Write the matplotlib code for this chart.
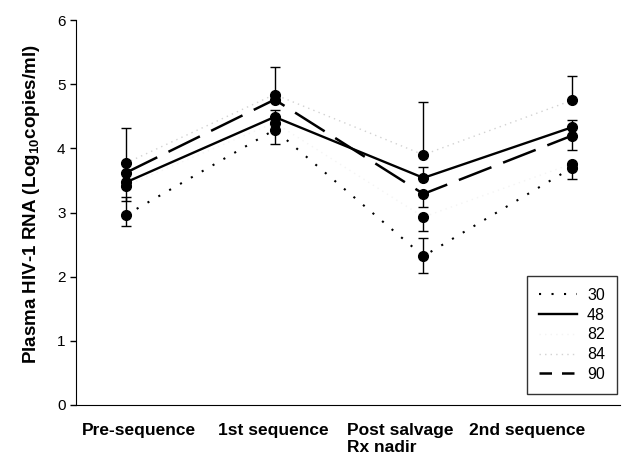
import numpy as np
import matplotlib
matplotlib.use('Agg')
import matplotlib.pyplot as plt
import matplotlib.transforms as mtransforms
from matplotlib.lines import Line2D

plt.rcParams['font.family'] = ['Liberation Sans', 'DejaVu Sans']
plt.rcParams['mathtext.fontset'] = 'custom'
plt.rcParams['mathtext.rm'] = 'Liberation Sans'
plt.rcParams['mathtext.bf'] = 'Liberation Sans:bold'

# data
categories = ['Pre-sequence', '1st sequence', 'Post salvage\nRx nadir', '2nd sequence']
series_names = ['30', '48', '82', '84', '90']
s30 = [2.96, 4.29, 2.32, 3.70]
s48 = [3.47, 4.49, 3.54, 4.33]
s82 = [3.42, 4.40, 2.93, 3.76]
s84 = [3.77, 4.84, 3.90, 4.75]
s90 = [3.62, 4.76, 3.29, 4.20]
# asymmetric error bars (lower, upper)
err30 = [[0.17, 0.22, 0.26, 0.18], [0.28, 0.00, 0.28, 0.00]]
err48 = [[0.00, 0.00, 0.00, 0.00], [0.00, 0.11, 0.17, 0.11]]
err82 = [[0.24, 0.00, 0.22, 0.00], [0.00, 0.00, 0.00, 0.00]]
err84 = [[0.00, 0.00, 0.00, 0.00], [0.54, 0.43, 0.82, 0.38]]
err90 = [[0.00, 0.00, 0.21, 0.23], [0.00, 0.00, 0.00, 0.00]]

x = np.arange(len(categories))

fig = plt.figure(figsize=(6.28, 4.57), dpi=100)
ax = fig.add_axes([0.121, 0.114, 0.866, 0.842])

styles = {
    '30': dict(color='black', lw=1.5, ls=(0, (1, 5))),
    '48': dict(color='black', lw=1.7, ls='-'),
    '82': dict(color='#f4f4f4', lw=1.0, ls=(0, (1, 3))),
    '84': dict(color='#d2d2d2', lw=1.0, ls=(0, (1, 3))),
    '90': dict(color='black', lw=1.8, ls=(0, (14, 5))),
}
data = {'30': (s30, err30), '48': (s48, err48), '82': (s82, err82),
        '84': (s84, err84), '90': (s90, err90)}

for name in series_names:
    vals, err = data[name]
    ax.plot(x, vals, **styles[name], zorder=2)
    ax.errorbar(x, vals, yerr=err, fmt='o', color='black', ms=7,
                elinewidth=1, capsize=3.5, capthick=1, zorder=3)

ax.set_xlim(-0.335, 3.32)
ax.set_ylim(0, 6)
ax.set_yticks(range(7))
ax.tick_params(axis='y', labelsize=11, length=4, width=1)
ax.spines['top'].set_visible(False)
ax.spines['right'].set_visible(False)

ax.set_xticks(x)
ax.set_xticklabels(categories, fontsize=12.5, fontweight='bold',
                   ha='center', multialignment='left', linespacing=1.2)
ax.tick_params(axis='x', length=0, pad=13)
offsets = [13, -1, -23, -45]
for lab, dx in zip(ax.get_xticklabels(), offsets):
    lab.set_transform(lab.get_transform() +
                      mtransforms.ScaledTranslation(dx / 100, 0, fig.dpi_scale_trans))
    lab.set_verticalalignment('top')

ax.set_ylabel(r'Plasma HIV-1 RNA (Log$_{\mathbf{10}}$copies/ml)',
              fontsize=13.5, fontweight='bold')
ax.yaxis.set_label_coords(-0.062, 0.522)

handles = [
    Line2D([], [], color='black', lw=1.5, ls=(0, (1, 5))),
    Line2D([], [], color='black', lw=1.7, ls='-'),
    Line2D([], [], color='#f4f4f4', lw=1.0, ls=(0, (1, 3))),
    Line2D([], [], color='#d2d2d2', lw=1.0, ls=(0, (1, 3))),
    Line2D([], [], color='black', lw=1.8, ls=(0, (5, 4))),
]
leg = ax.legend(handles, series_names, loc='lower right',
                bbox_to_anchor=(617 / 628, 1 - 394 / 457), bbox_transform=fig.transFigure,
                borderaxespad=0,
                fontsize=11.5, frameon=True, fancybox=False, edgecolor='black',
                handlelength=2.4, labelspacing=0.3, borderpad=0.75, handletextpad=0.6)
leg.get_frame().set_linewidth(1)

plt.savefig('out.png', dpi=100)
